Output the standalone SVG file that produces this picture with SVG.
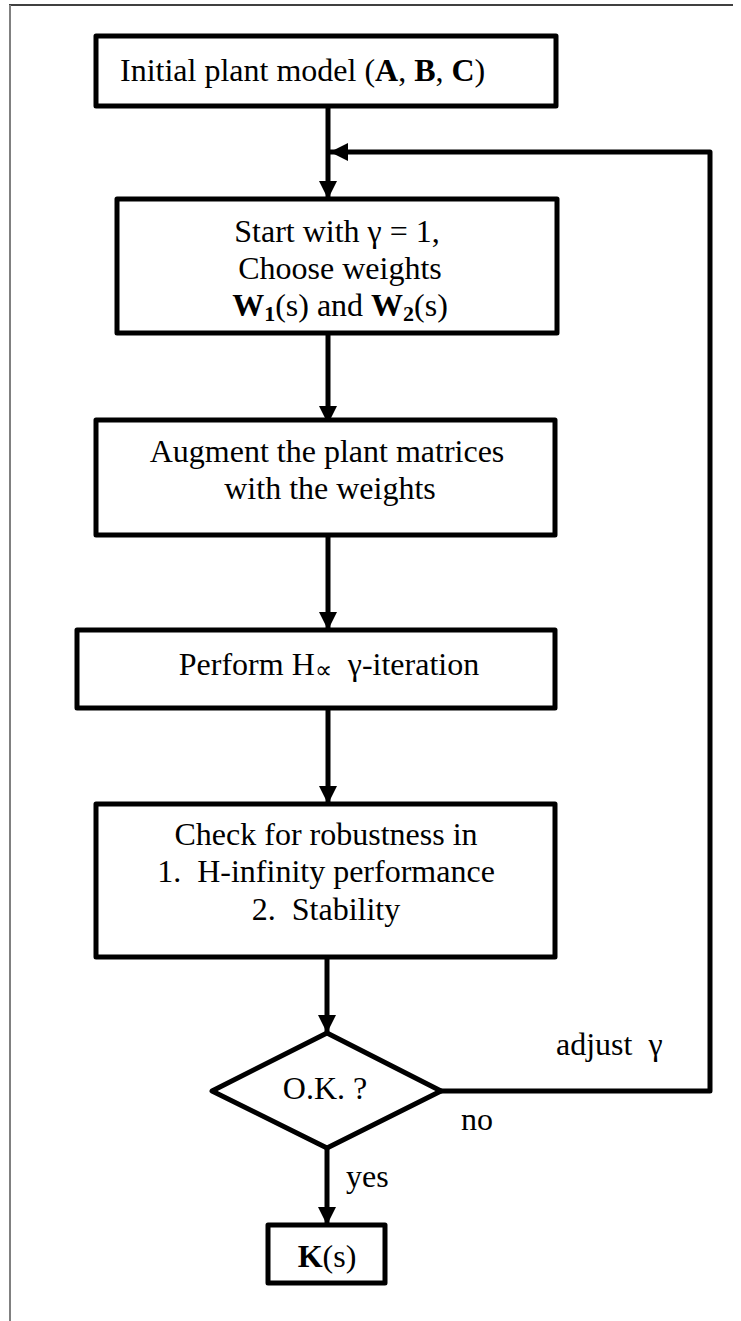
<svg xmlns="http://www.w3.org/2000/svg" width="741" height="1321" viewBox="0 0 741 1321">
<style>
.box{fill:#fff;stroke:#000;stroke-width:5;stroke-linejoin:round}
.t{font-family:"Liberation Serif","Times New Roman",serif;font-size:32px;fill:#000}
.c{text-anchor:middle}
.b{font-weight:bold}
.ln{fill:none;stroke:#000;stroke-width:5}
</style>
<defs>
<marker id="ah" markerUnits="userSpaceOnUse" markerWidth="18" markerHeight="18" refX="18" refY="9" orient="auto">
<path d="M0,0 L18,9 L0,18 Z" fill="#000"/>
</marker>
</defs>
<rect width="741" height="1321" fill="#fff"/>
<g id="frame">
<line x1="9" y1="5" x2="733" y2="5" stroke="#000" stroke-width="1.3"/>
<line x1="10" y1="5" x2="10" y2="1321" stroke="#808080" stroke-width="2"/>
</g>
<g id="connectors">
<line class="ln" x1="328" y1="106" x2="328" y2="199" marker-end="url(#ah)"/>
<line class="ln" x1="328" y1="333" x2="328" y2="424" marker-end="url(#ah)"/>
<line class="ln" x1="328" y1="535" x2="328" y2="630" marker-end="url(#ah)"/>
<line class="ln" x1="328" y1="708" x2="328" y2="804" marker-end="url(#ah)"/>
<line class="ln" x1="327" y1="957" x2="327" y2="1033" marker-end="url(#ah)"/>
<line class="ln" x1="327" y1="1148" x2="327" y2="1225" marker-end="url(#ah)"/>
<path class="ln" d="M441,1091 H710 V152 H330" stroke-linejoin="round" marker-end="url(#ah)"/>
<text class="t" x="556" y="1055" xml:space="preserve">adjust  γ</text>
<text class="t" x="461" y="1130">no</text>
<text class="t" x="346" y="1187">yes</text>
</g>
<g id="n1">
<rect class="box" x="96" y="36" width="460" height="70"/>
<text class="t" x="120" y="81">Initial plant model (<tspan class="b">A</tspan>, <tspan class="b">B</tspan>, <tspan class="b">C</tspan>)</text>
</g>
<g id="n2">
<rect class="box" x="117" y="199" width="440" height="134"/>
<text class="t c" x="337" y="242">Start with γ = 1,</text>
<text class="t c" x="340" y="279">Choose weights</text>
<text class="t c" x="340" y="316"><tspan class="b">W</tspan><tspan class="b" font-size="22" dy="5">1</tspan><tspan dy="-5">(s) and </tspan><tspan class="b">W</tspan><tspan class="b" font-size="22" dy="5">2</tspan><tspan dy="-5">(s)</tspan></text>
</g>
<g id="n3">
<rect class="box" x="96" y="420" width="459" height="115"/>
<text class="t c" x="327" y="462">Augment the plant matrices</text>
<text class="t c" x="330" y="499">with the weights</text>
</g>
<g id="n4">
<rect class="box" x="77" y="630" width="478" height="78"/>
<text class="t c" x="329" y="675" xml:space="preserve">Perform H<tspan font-size="24" dy="3">∝</tspan><tspan dy="-3">  γ-iteration</tspan></text>
</g>
<g id="n5">
<rect class="box" x="96" y="804" width="459" height="153"/>
<text class="t c" x="326" y="845">Check for robustness in</text>
<text class="t c" x="326" y="882" xml:space="preserve">1.  H-infinity performance</text>
<text class="t c" x="326" y="920" xml:space="preserve">2.  Stability</text>
</g>
<g id="n6">
<polygon class="box" points="327,1033 441,1091 327,1148 212,1091"/>
<text class="t c" x="325" y="1099">O.K. ?</text>
</g>
<g id="n7">
<rect class="box" x="268" y="1225" width="117" height="58"/>
<text class="t c" x="327" y="1267"><tspan class="b">K</tspan>(s)</text>
</g>
</svg>
